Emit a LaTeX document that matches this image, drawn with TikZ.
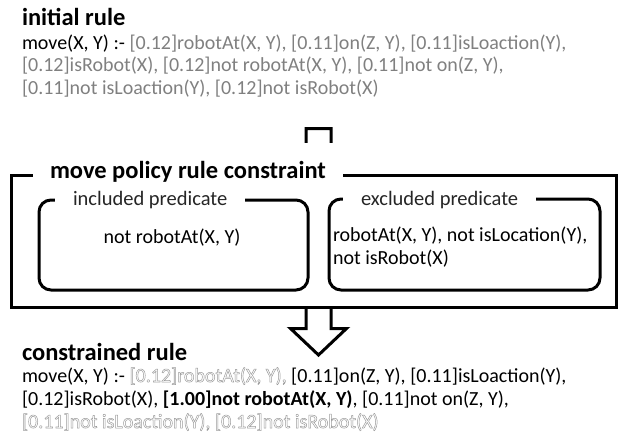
\documentclass[tikz,border=0pt]{standalone}
\usepackage{fontspec}
\setmainfont{Carlito}
\usetikzlibrary{positioning}
\pgfdeclarelayer{bg}
\pgfsetlayers{bg,main}
\definecolor{rulegray}{HTML}{808080}
\definecolor{faded}{HTML}{9A9A9A}
% outlined (stroke only) text for the dropped predicates
\newcommand{\hollow}[1]{{\color{faded}\special{pdf:literal direct 1 Tr 0.5 w}#1\special{pdf:literal direct 0 Tr}}}
\tikzset{
    every node/.style={inner sep=0pt, outer sep=0pt}
}
\tikzset{
    heading/.style={anchor=base west, font=\fontsize{24.5}{28}\selectfont\bfseries},
    ruletext/.style={anchor=base west, align=left, font=\fontsize{20}{23}\selectfont},
    frame/.style={draw, line width=3pt, fill=white},
    boxtitle/.style={anchor=base west, fill=white, inner xsep=18pt, inner ysep=2pt},
    predtext/.style={font=\fontsize{20}{23}\selectfont}
}

\begin{document}
\begin{tikzpicture}[x=1pt, y=-1pt]
        \useasboundingbox (0,0) rectangle (621,436);
        % constraint boxes
        \node (policy) [frame, minimum width=605pt, minimum height=132pt] at (313.5,241) {};
        \node (policyT) [boxtitle, inner xsep=17pt, text height=33pt, font=\fontsize{24.5}{28}\selectfont\bfseries] at (33,178) {move policy rule constraint};
        \node (incl) [frame, rounded corners=12pt, minimum width=269pt, minimum height=90pt] at (173.5,245) {};
        \node (inclT) [boxtitle, font=\fontsize{20.5}{24}\selectfont, text=black!85] at (55,205) {included predicate};
        \node (excl) [frame, rounded corners=12pt, minimum width=271pt, minimum height=91pt] at (464.5,244.5) {};
        \node (exclT) [boxtitle, font=\fontsize{20.5}{24}\selectfont, text=black!85] at (343,205) {excluded predicate};
        \node (inclP) [predtext, anchor=base] at (172,243) {not robotAt(X, Y)};
        \node (exclP) [predtext, anchor=base west, align=left] at (333,264) {robotAt(X, Y), not isLocation(Y),\\not isRobot(X)};
        \begin{pgfonlayer}{bg}
                \draw [line width=3pt, fill=white, line join=miter] (306,128.5) -- (331,128.5) -- (331,328.5) -- (346.5,328.5) -- (318.5,355) -- (290.5,328.5) -- (306,328.5) -- cycle;
        \end{pgfonlayer}
        % rules before and after
        \node (initT) [heading] at (22,26) {initial rule};
        \node (initR) [ruletext] at (22,95) {move(X, Y) :- {\color{rulegray}[0.12]robotAt(X, Y), [0.11]on(Z, Y), [0.11]isLoaction(Y),}\\
                {\color{rulegray}[0.12]isRobot(X), [0.12]not robotAt(X, Y), [0.11]not on(Z, Y),}\\
                {\color{rulegray}[0.11]not isLoaction(Y), [0.12]not isRobot(X)}};
        \node (consT) [heading] at (22,360) {constrained rule};
        \node (consR) [ruletext] at (22,428) {move(X, Y) :- \hollow{[0.12]robotAt(X, Y),} [0.11]on(Z, Y), [0.11]isLoaction(Y),\\
                {[0.12]isRobot(X),} \textbf{[1.00]not robotAt(X, Y)}, [0.11]not on(Z, Y),\\
                \hollow{[0.11]not isLoaction(Y), [0.12]not isRobot(X)}};
\end{tikzpicture}
\end{document}
